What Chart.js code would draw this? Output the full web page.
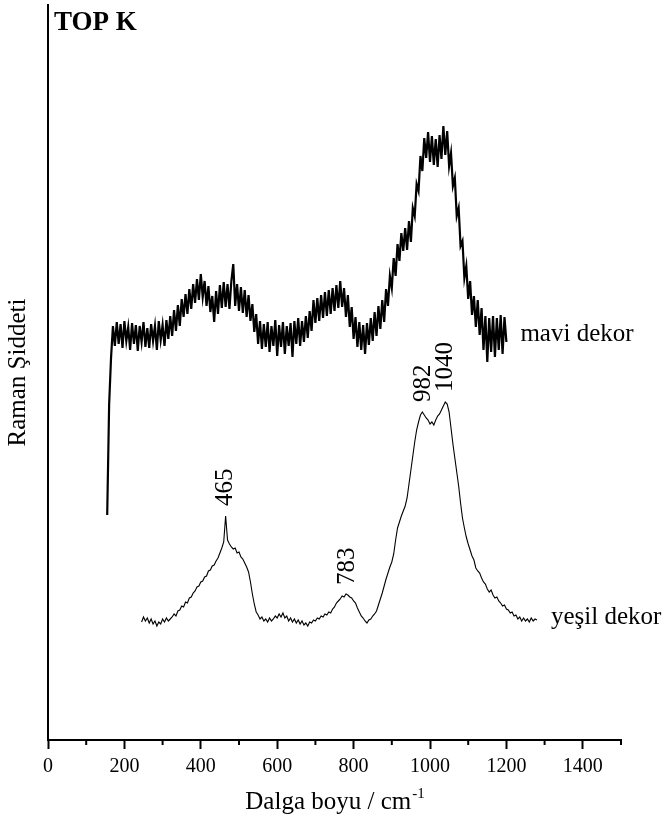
<!DOCTYPE html>
<html>
<head>
<meta charset="utf-8">
<script src="https://cdn.jsdelivr.net/npm/chart.js@4/dist/chart.umd.min.js"></script>
<style>
  html, body { margin: 0; padding: 0; background: #fff; }
  #wrap { width: 671px; height: 825px; }
</style>
</head>
<body>
<div id="wrap"><canvas id="grafik"></canvas></div>
<script>
// Raman spektrumlari (keyfi siddet birimi), 5 cm-1 adimla
const adim = 5;

const maviBaslangic = 155;
const maviDekor = [
  225, 335, 382, 414, 394, 418, 396, 416, 392, 419, 399, 413, 390, 417, 396, 415, 389, 414, 398, 418,
  393, 412, 392, 416, 399, 414, 390, 419, 400, 415, 394, 420, 401, 424, 404, 430, 409, 435, 414, 441,
  423, 446, 426, 451, 431, 456, 437, 461, 440, 466, 443, 459, 434, 454, 428, 444, 418, 449, 426, 455,
  432, 458, 433, 456, 431, 459, 476, 434, 456, 429, 453, 427, 450, 423, 445, 419, 436, 408, 426, 396,
  419, 391, 416, 393, 418, 388, 414, 394, 420, 384, 415, 393, 418, 386, 414, 394, 417, 383, 419, 396,
  422, 394, 419, 398, 424, 402, 429, 409, 440, 417, 442, 419, 445, 422, 448, 424, 450, 426, 452, 429,
  455, 432, 459, 433, 452, 423, 445, 413, 433, 401, 423, 393, 418, 390, 415, 386, 417, 395, 422, 399,
  428, 404, 434, 411, 440, 418, 451, 434, 464, 452, 482, 464, 496, 479, 507, 489, 512, 490, 519, 498,
  532, 524, 556, 549, 584, 569, 602, 582, 608, 578, 604, 575, 601, 573, 605, 581, 614, 585, 609, 574,
  587, 554, 562, 524, 532, 494, 499, 462, 474, 441, 459, 425, 444, 413, 440, 405, 432, 390, 424, 378,
  422, 388, 424, 383, 422, 390, 425, 386, 423, 398
];

const yesilBaslangic = 245;
const yesilDekor = [
  118, 123, 119, 122, 117, 121, 116, 119, 114, 118, 116, 121, 118, 122, 119, 121, 123, 126, 124, 129,
  130, 134, 133, 138, 137, 142, 143, 147, 149, 153, 154, 158, 159, 163, 164, 169, 170, 174, 175, 179,
  182, 187, 192, 198, 224, 200, 196, 193, 191, 192, 187, 188, 183, 181, 177, 173, 168, 158, 146, 136,
  128, 125, 121, 123, 119, 121, 118, 122, 119, 121, 124, 122, 126, 123, 127, 122, 124, 119, 122, 118,
  121, 117, 120, 116, 119, 115, 117, 114, 118, 117, 120, 119, 122, 121, 124, 123, 126, 125, 128, 127,
  131, 133, 137, 139, 141, 144, 143, 146, 145, 143, 142, 139, 137, 132, 128, 124, 122, 119, 117, 120,
  121, 124, 126, 129, 135, 141, 147, 154, 161, 167, 173, 178, 186, 200, 212, 218, 224, 229, 234, 242,
  256, 270, 284, 298, 310, 318, 325, 328, 325, 322, 320, 316, 318, 315, 320, 324, 326, 330, 334, 338,
  336, 328, 312, 296, 282, 268, 254, 237, 222, 212, 203, 196, 190, 184, 180, 172, 169, 167, 162, 158,
  156, 151, 148, 150, 145, 142, 143, 139, 137, 134, 135, 131, 130, 127, 128, 124, 125, 121, 123, 119,
  122, 119, 121, 118, 122, 119, 121, 120
];

const seriAdlari = ['mavi dekor', 'yeşil dekor'];
const tepeEtiketleri = ['465', '783', '982', '1040'];
const tepeKonumlari = [465, 783, 982, 1040];
const xEtiketTicks = [0, 200, 400, 600, 800, 1000, 1200, 1400];
const baslik = 'TOP K';

function noktalar(baslangic, degerler) {
  return degerler.map((v, i) => ({ x: baslangic + i * adim, y: v }));
}

const yaziFont = '"Liberation Serif", "Times New Roman", serif';

const yazilar = {
  id: 'yazilar',
  afterDraw(chart) {
    const { ctx, chartArea, scales: { x, y } } = chart;
    ctx.save();
    ctx.fillStyle = '#000';
    ctx.strokeStyle = '#000';

    // ara ticks (100, 300, ...)
    ctx.lineWidth = 2;
    for (let v = 100; v <= 1500; v += 200) {
      const px = x.getPixelForValue(v);
      ctx.beginPath();
      ctx.moveTo(px, chartArea.bottom);
      ctx.lineTo(px, chartArea.bottom + 5);
      ctx.stroke();
    }

    // panel basligi
    ctx.font = 'bold 27px ' + yaziFont;
    ctx.textAlign = 'left';
    ctx.textBaseline = 'middle';
    ctx.fillText(baslik, chartArea.left + 6, chartArea.top + 18);

    // seri adlari, egrilerin sonunda
    ctx.font = '25px ' + yaziFont;
    const seriler = [[maviBaslangic, maviDekor, -8], [yesilBaslangic, yesilDekor, -3]];
    seriler.forEach(([bas, deg, kay], i) => {
      const sonX = bas + (deg.length - 1) * adim;
      ctx.fillText(seriAdlari[i], x.getPixelForValue(sonX) + 14, y.getPixelForValue(deg[deg.length - 1]) + kay);
    });

    // tepe etiketleri (dik)
    tepeKonumlari.forEach((t, i) => {
      const idx = Math.round((t - yesilBaslangic) / adim);
      const px = x.getPixelForValue(t);
      const py = y.getPixelForValue(yesilDekor[idx]) - 10;
      ctx.save();
      ctx.translate(px, py);
      ctx.rotate(-Math.PI / 2);
      ctx.textAlign = 'left';
      ctx.textBaseline = 'middle';
      ctx.fillText(tepeEtiketleri[i], 0, 0);
      ctx.restore();
    });

    // x ekseni basligi, ust simgeli
    const ana = 'Dalga boyu / cm';
    const ust = '-1';
    ctx.font = '25px ' + yaziFont;
    const w1 = ctx.measureText(ana).width;
    ctx.font = '15px ' + yaziFont;
    const w2 = ctx.measureText(ust).width;
    const orta = (x.left + x.right) / 2;
    const bas = orta - (w1 + w2) / 2;
    const taban = chart.height - 16;
    ctx.textBaseline = 'alphabetic';
    ctx.font = '25px ' + yaziFont;
    ctx.fillText(ana, bas, taban);
    ctx.font = '15px ' + yaziFont;
    ctx.fillText(ust, bas + w1 + 1, taban - 11);
    ctx.restore();
  }
};

const ctx = document.getElementById('grafik').getContext('2d');
const chart = new Chart(ctx, {
  type: 'line',
  data: {
    datasets: [
      {
        label: seriAdlari[0],
        data: noktalar(maviBaslangic, maviDekor),
        borderColor: '#000',
        borderWidth: 2.2,
        pointRadius: 0,
        tension: 0
      },
      {
        label: seriAdlari[1],
        data: noktalar(yesilBaslangic, yesilDekor),
        borderColor: '#000',
        borderWidth: 1.1,
        pointRadius: 0,
        tension: 0
      }
    ]
  },
  options: {
    responsive: true,
    maintainAspectRatio: false,
    animation: false,
    layout: { padding: { top: 5, right: 50, left: 0, bottom: 0 } },
    plugins: {
      legend: { display: false },
      tooltip: { enabled: false }
    },
    scales: {
      x: {
        type: 'linear',
        min: 0,
        max: 1500,
        afterFit: s => { s.height = 85; },
        afterBuildTicks: s => { s.ticks = xEtiketTicks.map(v => ({ value: v })); },
        ticks: {
          color: '#000',
          padding: 6,
          maxRotation: 0,
          callback: v => String(v),
          font: { family: yaziFont, size: 20 }
        },
        grid: {
          drawOnChartArea: false,
          tickLength: 9,
          tickWidth: 2,
          tickColor: '#000'
        },
        border: { color: '#000', width: 2 }
      },
      y: {
        type: 'linear',
        min: 0,
        max: 735,
        afterFit: s => { s.width = 48; },
        ticks: { display: false },
        grid: { display: false },
        border: { color: '#000', width: 2 },
        title: {
          display: true,
          text: 'Raman Şiddeti',
          color: '#000',
          padding: { top: 3, bottom: 0 },
          font: { family: yaziFont, size: 25 }
        }
      }
    }
  },
  plugins: [yazilar]
});
</script>
</body>
</html>
